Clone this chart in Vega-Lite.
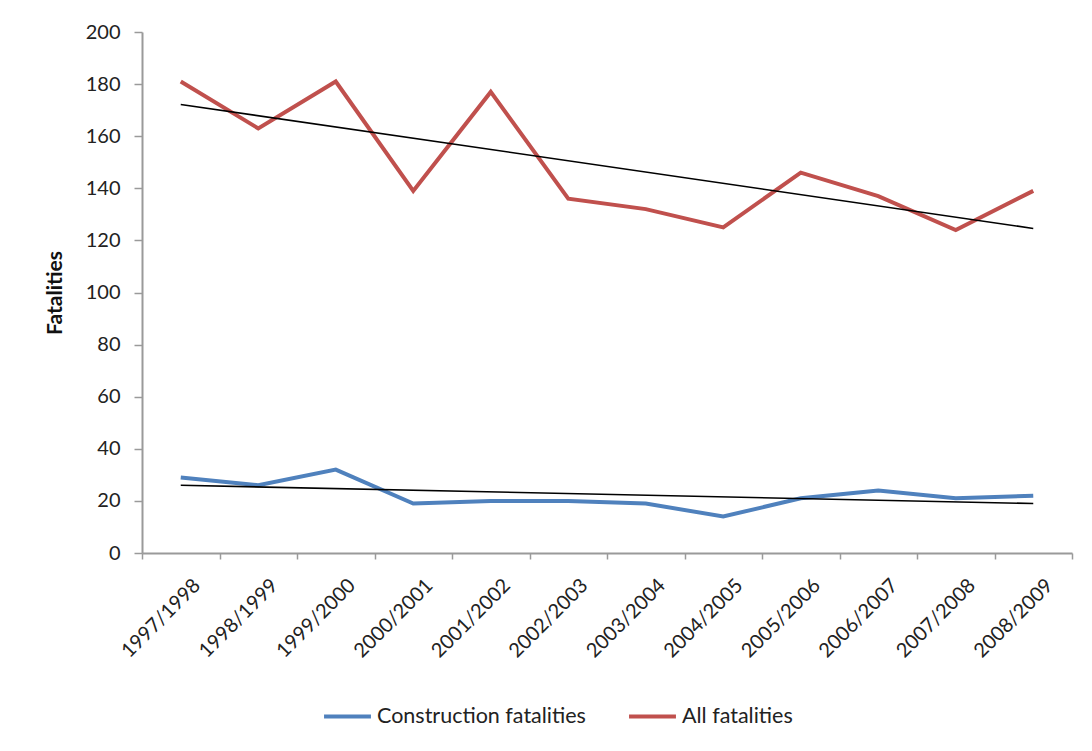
{
  "$schema": "https://vega.github.io/schema/vega-lite/v6.json",
  "width": 930,
  "height": 521,
  "autosize": "none",
  "padding": {"left": 142, "top": 32, "right": 20, "bottom": 198},
  "background": "white",
  "config": {
    "font": "Lato",
    "view": {"stroke": null},
    "axis": {"domainColor": "#9a9a9a", "domainWidth": 2, "tickColor": "#9a9a9a", "tickWidth": 1.5, "labelColor": "#222222", "labelFont": "Lato", "grid": false}
  },
  "datasets": {
    "series": [
      {"period": "1997/1998", "series": "Construction fatalities", "value": 29},
      {"period": "1998/1999", "series": "Construction fatalities", "value": 26},
      {"period": "1999/2000", "series": "Construction fatalities", "value": 32},
      {"period": "2000/2001", "series": "Construction fatalities", "value": 19},
      {"period": "2001/2002", "series": "Construction fatalities", "value": 20},
      {"period": "2002/2003", "series": "Construction fatalities", "value": 20},
      {"period": "2003/2004", "series": "Construction fatalities", "value": 19},
      {"period": "2004/2005", "series": "Construction fatalities", "value": 14},
      {"period": "2005/2006", "series": "Construction fatalities", "value": 21},
      {"period": "2006/2007", "series": "Construction fatalities", "value": 24},
      {"period": "2007/2008", "series": "Construction fatalities", "value": 21},
      {"period": "2008/2009", "series": "Construction fatalities", "value": 22},
      {"period": "1997/1998", "series": "All fatalities", "value": 181},
      {"period": "1998/1999", "series": "All fatalities", "value": 163},
      {"period": "1999/2000", "series": "All fatalities", "value": 181},
      {"period": "2000/2001", "series": "All fatalities", "value": 139},
      {"period": "2001/2002", "series": "All fatalities", "value": 177},
      {"period": "2002/2003", "series": "All fatalities", "value": 136},
      {"period": "2003/2004", "series": "All fatalities", "value": 132},
      {"period": "2004/2005", "series": "All fatalities", "value": 125},
      {"period": "2005/2006", "series": "All fatalities", "value": 146},
      {"period": "2006/2007", "series": "All fatalities", "value": 137},
      {"period": "2007/2008", "series": "All fatalities", "value": 124},
      {"period": "2008/2009", "series": "All fatalities", "value": 139}
    ],
    "trends": [
      {"period": "1997/1998", "trend": "All", "value": 172.2},
      {"period": "2008/2009", "trend": "All", "value": 124.6},
      {"period": "1997/1998", "trend": "Construction", "value": 26},
      {"period": "2008/2009", "trend": "Construction", "value": 19}
    ]
  },
  "encoding": {
    "x": {
      "field": "period",
      "type": "nominal",
      "bandPosition": 0.5,
      "scale": {"type": "band", "paddingInner": 0, "paddingOuter": 0, "domain": ["1997/1998","1998/1999","1999/2000","2000/2001","2001/2002","2002/2003","2003/2004","2004/2005","2005/2006","2006/2007","2007/2008","2008/2009"]},
      "axis": {"title": null, "labelAngle": -45, "labelFontSize": 20, "tickBand": "extent", "tickSize": 6, "labelPadding": 16, "labelOffset": 9}
    },
    "y": {
      "field": "value",
      "type": "quantitative",
      "scale": {"domain": [0, 200], "nice": false},
      "axis": {"title": "Fatalities", "titleFontSize": 21, "titleFontWeight": "bold", "titleColor": "#111111", "titlePadding": 20, "values": [0,20,40,60,80,100,120,140,160,180,200], "labelFontSize": 20, "tickSize": 8, "labelPadding": 14}
    }
  },
  "layer": [
    {
      "data": {"name": "series"},
      "mark": {"type": "line", "strokeWidth": 4},
      "encoding": {
        "color": {
          "field": "series",
          "type": "nominal",
          "scale": {"domain": ["Construction fatalities", "All fatalities"], "range": ["#4f81bd", "#c0504d"]},
          "legend": {"title": null, "orient": "none", "direction": "horizontal", "legendX": 180, "legendY": 659, "symbolType": "stroke", "symbolSize": 2200, "symbolStrokeWidth": 4, "labelFontSize": 21.5, "labelLimit": 0, "labelColor": "#222222", "labelOffset": 4, "columnPadding": 35}
        }
      }
    },
    {
      "data": {"name": "trends"},
      "mark": {"type": "line", "strokeWidth": 1.6, "color": "#000000"},
      "encoding": {"detail": {"field": "trend", "type": "nominal"}}
    }
  ]
}
